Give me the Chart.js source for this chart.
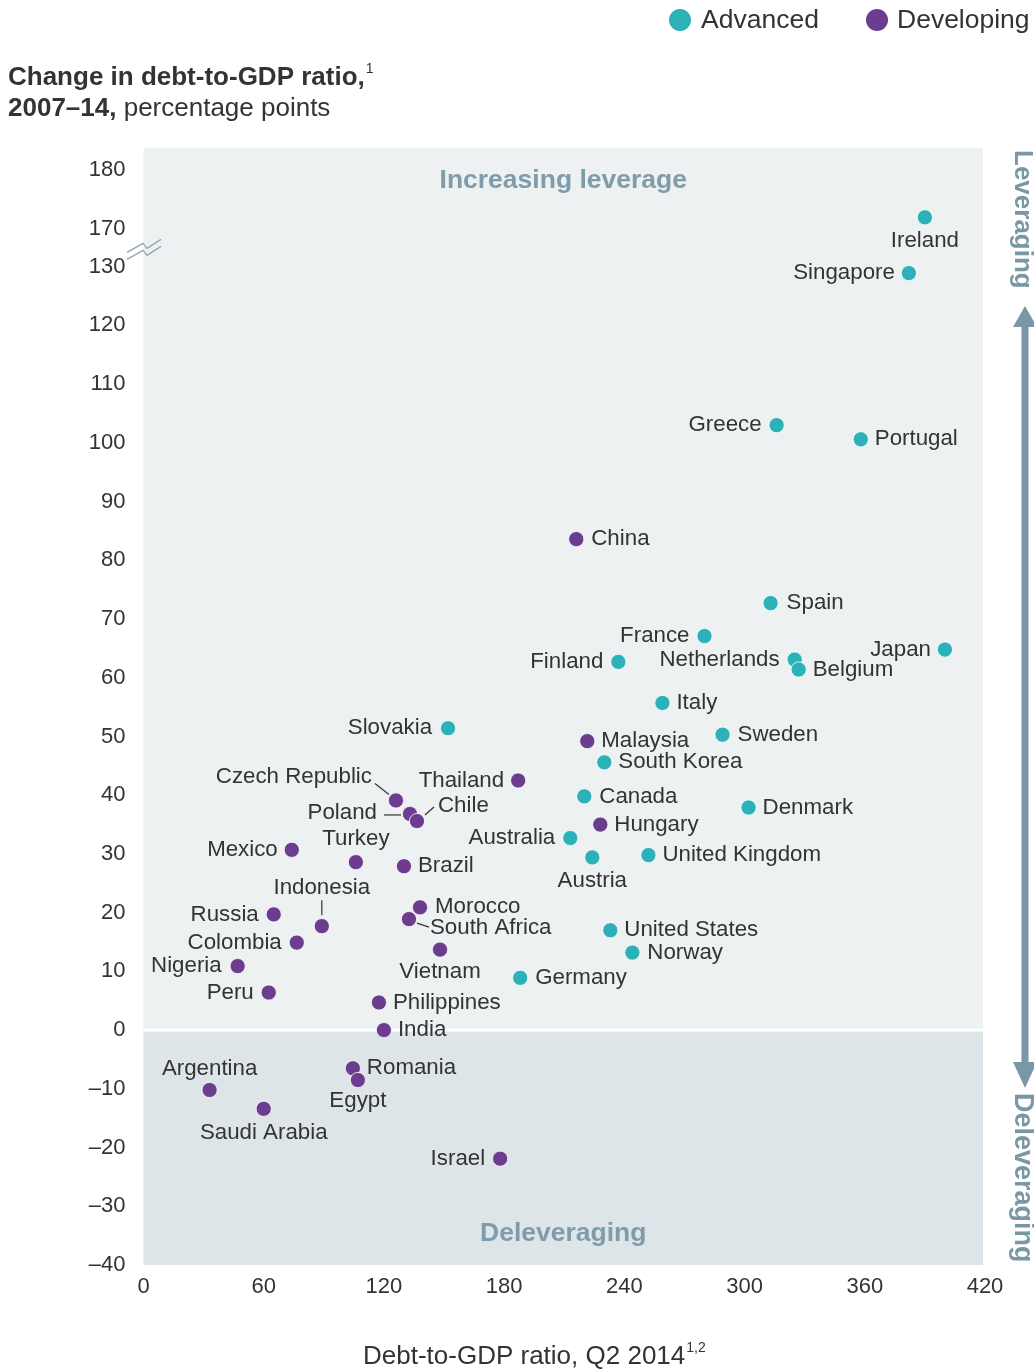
<!DOCTYPE html>
<html><head><meta charset="utf-8">
<script src="https://cdn.jsdelivr.net/npm/chart.js@4.4.1/dist/chart.umd.min.js"></script>
<style>html,body{margin:0;padding:0;background:#fff;}#wrap{position:relative;width:1034px;height:1369px;}</style>
</head><body><div id="wrap"><canvas id="c" width="1034" height="1369"></canvas></div>
<script>
// ---- data ----
const advancedNames = ["Ireland","Singapore","Greece","Portugal","Spain","France","Japan","Netherlands","Belgium","Finland","Italy","Slovakia","Sweden","South Korea","Canada","Denmark","Australia","Austria","United Kingdom","United States","Norway","Germany"];
const advancedDebt = [390, 382, 316, 358, 313, 280, 400, 325, 327, 237, 259, 152, 289, 230, 220, 302, 213, 224, 252, 233, 244, 188];
const advancedChange = [172, 128.9, 103.0, 100.6, 72.7, 67.1, 64.8, 63.1, 61.4, 62.7, 55.7, 51.4, 50.3, 45.6, 39.8, 37.9, 32.7, 29.4, 29.8, 17.0, 13.2, 8.9];

const developingNames = ["China","Malaysia","Thailand","Czech Republic","Poland","Chile","Hungary","Mexico","Turkey","Brazil","Indonesia","Morocco","South Africa","Russia","Colombia","Vietnam","Nigeria","Peru","Philippines","India","Romania","Egypt","Argentina","Saudi Arabia","Israel"];
const developingDebt = [216, 221.5, 187, 126, 133, 136.5, 228, 74, 106, 130, 89, 138, 132.5, 65, 76.5, 148, 47, 62.5, 117.5, 120, 104.5, 107, 33, 60, 178];
const developingChange = [83.6, 49.2, 42.5, 39.1, 36.8, 35.6, 35.0, 30.7, 28.6, 27.9, 17.7, 20.9, 18.9, 19.7, 14.9, 13.7, 10.9, 6.4, 4.7, 0, -6.5, -8.5, -10.2, -13.4, -21.9];

const xTickValues = [0, 60, 120, 180, 240, 300, 360, 420];
const yTickValues = [-40, -30, -20, -10, 0, 10, 20, 30, 40, 50, 60, 70, 80, 90, 100, 110, 120, 130, 170, 180];

// ---- axis break (130 -> 170) ----
const BREAK_HIGH = 170, BREAK_POS = 136.4;
const toPlot = v => v >= BREAK_HIGH ? BREAK_POS + (v - BREAK_HIGH) : v;
const fromPlot = p => p >= BREAK_POS - 0.01 ? Math.round(BREAK_HIGH + p - BREAK_POS) : Math.round(p);

// ---- label placement (style) ----
const labelPos = {
  "Ireland":[0,24,"center"],"Singapore":[-14,0,"right"],"Greece":[-15,0,"right"],"Portugal":[14,0,"left"],
  "Spain":[16,0,"left"],"France":[-15,0,"right"],"Japan":[-14,0,"right"],"Netherlands":[-15,0,"right"],
  "Belgium":[14,0,"left"],"Finland":[-15,0,"right"],"Italy":[14,0,"left"],"Slovakia":[-16,0,"right"],
  "Sweden":[15,0,"left"],"South Korea":[14,0,"left"],"Canada":[15,0,"left"],"Denmark":[14,0,"left"],
  "Australia":[-15,0,"right"],"Austria":[0,23,"center"],"United Kingdom":[14,0,"left"],"United States":[14,0,"left"],
  "Norway":[15,0,"left"],"Germany":[15,0,"left"],
  "China":[15,0,"left"],"Malaysia":[14,0,"left"],"Thailand":[-14,0,"right"],"Czech Republic":[-24,-24,"right"],
  "Poland":[-33,-1,"right"],"Chile":[21,-15,"left"],"Hungary":[14,0,"left"],"Mexico":[-14,0,"right"],
  "Turkey":[0,-23,"center"],"Brazil":[14,0,"left"],"Indonesia":[0,-38,"center"],"Morocco":[15,0,"left"],
  "South Africa":[21,9,"left"],"Russia":[-15,0,"right"],"Colombia":[-15,0,"right"],"Vietnam":[0,22,"center"],
  "Nigeria":[-16,0,"right"],"Peru":[-15,0,"right"],"Philippines":[14,0,"left"],"India":[14,0,"left"],
  "Romania":[14,0,"left"],"Egypt":[0,21,"center"],"Argentina":[0,-21,"center"],"Saudi Arabia":[0,24,"center"],
  "Israel":[-15,0,"right"]
};
const leaders = {
  "Czech Republic":[-21,-17,-7,-6],
  "Poland":[-26,1,-9,1],
  "Chile":[8,-6,17,-14],
  "Indonesia":[0,-26,0,-11],
  "South Africa":[8,4,20,8]
};

const TEAL = "#2bb1b7", PURPLE = "#6c3d8e", ACCENT = "#7a97a6", TXT = "#333333";
const FONT = "'Liberation Sans', Arial, Helvetica, sans-serif";

function mk(names, xs, ys){ return names.map((n,i)=>({x:xs[i], y:toPlot(ys[i]), name:n})); }

const bgPlugin = {
  id:'bg',
  beforeDatasetsDraw(chart){
    const {ctx, chartArea:a, scales:{y}} = chart;
    const y0 = y.getPixelForValue(0);
    const r = a.right - 2;
    ctx.save();
    ctx.fillStyle = "#edf1f2";
    ctx.fillRect(a.left, a.top, r-a.left, y0-a.top);
    ctx.fillStyle = "#dde5e8";
    ctx.fillRect(a.left, y0, r-a.left, a.bottom-y0);
    ctx.fillStyle = "#ffffff";
    ctx.fillRect(a.left, y0-1.5, r-a.left, 3);
    // region labels
    ctx.fillStyle = "#7f9caa";
    ctx.font = "bold 26.5px " + FONT;
    ctx.textAlign = "center"; ctx.textBaseline = "middle";
    const cx = (a.left+r)/2;
    ctx.fillText("Increasing leverage", cx, a.top+33);
    ctx.fillText("Deleveraging", cx, a.bottom-31);
    ctx.restore();
  }
};

const labelPlugin = {
  id:'labels',
  afterDatasetsDraw(chart){
    const ctx = chart.ctx;
    ctx.save();
    ctx.font = "22.3px " + FONT;
    ctx.fillStyle = TXT;
    ctx.textBaseline = "middle";
    chart.data.datasets.forEach((ds, di)=>{
      const meta = chart.getDatasetMeta(di);
      meta.data.forEach((pt, i)=>{
        const name = ds.data[i].name;
        const p = labelPos[name] || [14,0,"left"];
        ctx.textAlign = p[2];
        ctx.fillText(name, pt.x + p[0], pt.y + p[1]);
        const l = leaders[name];
        if (l){
          ctx.strokeStyle = "#333"; ctx.lineWidth = 1.2;
          ctx.beginPath(); ctx.moveTo(pt.x+l[0], pt.y+l[1]); ctx.lineTo(pt.x+l[2], pt.y+l[3]); ctx.stroke();
        }
      });
    });
    ctx.restore();
  }
};

const decoPlugin = {
  id:'deco',
  afterDraw(chart){
    const {ctx, chartArea:a, scales:{y}} = chart;
    ctx.save();
    // title
    ctx.fillStyle = TXT; ctx.textBaseline = "alphabetic"; ctx.textAlign = "left";
    ctx.font = "bold 26px " + FONT;
    ctx.fillText("Change in debt-to-GDP ratio,", 8, 85);
    let w = ctx.measureText("Change in debt-to-GDP ratio,").width;
    ctx.font = "14px " + FONT;
    ctx.fillText("1", 8 + w + 1, 73);
    ctx.font = "bold 26px " + FONT;
    ctx.fillText("2007–14,", 8, 116);
    w = ctx.measureText("2007–14,").width;
    ctx.font = "26px " + FONT;
    ctx.fillText(" percentage points", 8 + w, 116);

    // legend
    ctx.textBaseline = "middle";
    ctx.fillStyle = TEAL; ctx.beginPath(); ctx.arc(680, 20, 11, 0, Math.PI*2); ctx.fill();
    ctx.fillStyle = PURPLE; ctx.beginPath(); ctx.arc(877, 20, 11, 0, Math.PI*2); ctx.fill();
    ctx.fillStyle = TXT; ctx.font = "26.5px " + FONT;
    ctx.fillText("Advanced", 701, 21);
    ctx.fillText("Developing", 897, 21);

    // x-axis title
    ctx.textBaseline = "alphabetic";
    ctx.font = "26px " + FONT;
    const xt = "Debt-to-GDP ratio, Q2 2014";
    const xw = ctx.measureText(xt).width;
    const xs = 363;
    ctx.fillText(xt, xs, 1364);
    ctx.font = "14px " + FONT;
    ctx.fillText("1,2", xs + xw + 1, 1352);

    // axis break marks
    ctx.strokeStyle = "#8ea7b4"; ctx.lineWidth = 1.3;
    const yb = (y.getPixelForValue(130) + y.getPixelForValue(BREAK_POS))/2;
    [-3.5, 3.5].forEach(off=>{
      ctx.beginPath();
      ctx.moveTo(127, yb+off+8);
      ctx.lineTo(143, yb+off-1);
      ctx.lineTo(147, yb+off+4);
      ctx.lineTo(161, yb+off-5);
      ctx.stroke();
    });

    // right arrow
    const ax = 1025;
    ctx.fillStyle = ACCENT;
    ctx.fillRect(ax-3.5, 322, 7, 1066-322);
    ctx.beginPath(); ctx.moveTo(ax, 306); ctx.lineTo(ax-12, 327); ctx.lineTo(ax+12, 327); ctx.closePath(); ctx.fill();
    ctx.beginPath(); ctx.moveTo(ax, 1088); ctx.lineTo(ax-12, 1062); ctx.lineTo(ax+12, 1062); ctx.closePath(); ctx.fill();
    ctx.font = "bold 26px " + FONT;
    ctx.textBaseline = "middle"; ctx.textAlign = "left";
    ctx.translate(1022, 150); ctx.rotate(Math.PI/2);
    ctx.fillText("Leveraging", 0, 0);
    ctx.setTransform(1,0,0,1,0,0);
    ctx.font = "bold 27px " + FONT;
    ctx.translate(1022, 1093); ctx.rotate(Math.PI/2);
    ctx.fillText("Deleveraging", 0, 0);
    ctx.restore();
  }
};

new Chart(document.getElementById('c'), {
  type:'scatter',
  data:{ datasets:[
    { label:'Advanced', data: mk(advancedNames, advancedDebt, advancedChange),
      backgroundColor: TEAL, borderColor:'#ffffff', borderWidth:0.8, pointRadius:7.6, pointHoverRadius:7.6 },
    { label:'Developing', data: mk(developingNames, developingDebt, developingChange),
      backgroundColor: PURPLE, borderColor:'#ffffff', borderWidth:0.8, pointRadius:7.6, pointHoverRadius:7.6 }
  ]},
  options:{
    responsive:false, devicePixelRatio:1, animation:false,
    layout:{ padding:{ top:148, right:49, left:0, bottom:0 } },
    plugins:{ legend:{display:false}, tooltip:{enabled:false} },
    scales:{
      x:{ type:'linear', min:0, max:420,
        grid:{display:false, drawTicks:false}, border:{display:false},
        afterBuildTicks: s => { s.ticks = xTickValues.map(v=>({value:v})); },
        ticks:{ padding:9, color:TXT, font:{size:22, family:FONT}, maxRotation:0, autoSkip:false },
        afterFit: s => { s.height = 104; } },
      y:{ type:'linear', min:-40, max:150.2,
        grid:{display:false, drawTicks:false}, border:{display:false},
        afterBuildTicks: s => { s.ticks = yTickValues.map(v=>({value:toPlot(v)})); },
        ticks:{ padding:18, color:TXT, font:{size:22, family:FONT}, autoSkip:false,
          callback: v => { const r = fromPlot(v); return r < 0 ? '–' + Math.abs(r) : String(r); } },
        afterFit: s => { s.width = 143.5; } }
    }
  },
  plugins:[bgPlugin, labelPlugin, decoPlugin]
});
</script></body></html>
